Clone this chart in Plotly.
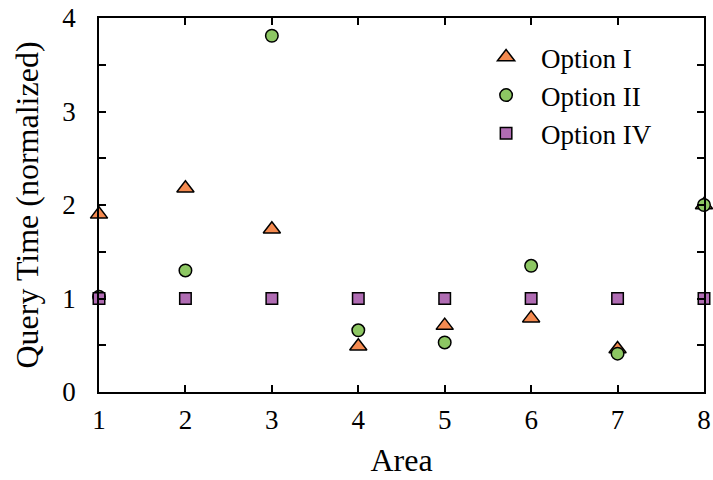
import plotly.graph_objects as go

areas = [1, 2, 3, 4, 5, 6, 7, 8]
option_i = [1.90, 2.18, 1.74, 0.49, 0.71, 0.79, 0.46, 2.00]
option_ii = [1.02, 1.30, 3.81, 0.66, 0.53, 1.35, 0.41, 2.00]
option_iv = [1.0, 1.0, 1.0, 1.0, 1.0, 1.0, 1.0, 1.0]

y_tickvals = [0, 0.5, 1, 1.5, 2, 2.5, 3, 3.5, 4]
y_ticktext = ["0", "", "1", "", "2", "", "3", "", "4"]
x_tickvals = areas
x_ticktext = [str(a) for a in areas]

FONT = "'Liberation Serif', 'Times New Roman', 'DejaVu Serif', serif"
FS = 27

fig = go.Figure()
fig.add_trace(go.Scatter(
    x=areas, y=option_i, mode="markers", name="Option I",
    marker=dict(symbol="triangle-up", size=15, color="#F48A50",
                line=dict(color="black", width=1.5)),
    cliponaxis=False,
))
fig.add_trace(go.Scatter(
    x=areas, y=option_ii, mode="markers", name="Option II",
    marker=dict(symbol="circle", size=12.5, color="#8DC763",
                line=dict(color="black", width=1.5)),
    cliponaxis=False,
))
fig.add_trace(go.Scatter(
    x=areas, y=option_iv, mode="markers", name="Option IV",
    marker=dict(symbol="square", size=11.5, color="#B06CB3",
                line=dict(color="black", width=1.5)),
    cliponaxis=False,
))

fig.update_layout(
    width=713, height=480,
    margin=dict(l=99, r=9, t=18, b=88),
    plot_bgcolor="white", paper_bgcolor="white",
    font=dict(family=FONT, size=FS, color="black"),
    showlegend=True,
    legend=dict(x=0.615, y=0.96, xanchor="left", yanchor="top",
                bgcolor="rgba(0,0,0,0)", font=dict(family=FONT, size=FS),
                itemwidth=60),
    xaxis=dict(
        range=[1, 8], tickvals=x_tickvals, ticktext=x_ticktext,
        ticks="inside", ticklen=7, tickwidth=1.5, tickcolor="black",
        showline=True, linecolor="black", linewidth=1.5, mirror="ticks",
        showgrid=False, zeroline=False, automargin=False,
        ticklabelstandoff=3,
        title=dict(text="Area", standoff=14),
    ),
    yaxis=dict(
        range=[0, 4], tickvals=y_tickvals, ticktext=y_ticktext,
        ticks="inside", ticklen=7, tickwidth=1.5, tickcolor="black",
        showline=True, linecolor="black", linewidth=1.5, mirror="ticks",
        showgrid=False, zeroline=False, automargin=False,
        ticklabelstandoff=16,
        title=dict(text="Query Time (normalized)", standoff=14),
    ),
)

fig.write_html("out.html")
